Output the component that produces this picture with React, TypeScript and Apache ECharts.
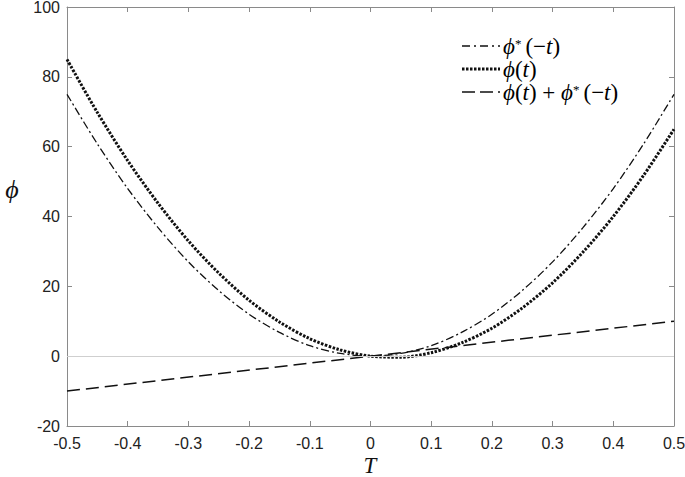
import React, { useEffect, useRef } from "react";
import * as echarts from "echarts";

const tValues = [-0.5, -0.45, -0.4, -0.35, -0.3, -0.25, -0.2, -0.15, -0.1, -0.05, 0, 0.05, 0.1, 0.15, 0.2, 0.25, 0.3, 0.35, 0.4, 0.45, 0.5];
const phiStarMinusT = [75, 60.8, 48, 36.8, 27, 18.8, 12, 6.8, 3, 0.8, 0, 0.8, 3, 6.8, 12, 18.8, 27, 36.8, 48, 60.8, 75];
const phiT = [85, 69.8, 56, 43.8, 33, 23.8, 16, 9.8, 5, 1.8, 0, -0.3, 1, 3.8, 8, 13.8, 21, 29.8, 40, 51.8, 65];
const sumT = [-0.5, 0, 0.5];
const sumValues = [-10, 0, 10];
const xTicks = [-0.5, -0.4, -0.3, -0.2, -0.1, 0, 0.1, 0.2, 0.3, 0.4, 0.5];
const yTicks = [-20, 0, 20, 40, 60, 80, 100];

const SERIF = "'Liberation Serif', 'DejaVu Serif', serif";
const SANS = "'Liberation Sans', Arial, sans-serif";
const FRAME = "#8a8a8a";

export default function App() {
  const ref = useRef<HTMLDivElement>(null);
  useEffect(() => {
    if (!ref.current) return;
    const chart = echarts.init(ref.current, null, { renderer: "svg" });
    const pair = (xs: number[], ys: number[]) => xs.map((x, i) => [x, ys[i]]);
    const axisCommon = {
      axisLine: { show: true, onZero: false, lineStyle: { color: FRAME, width: 1 } },
      axisTick: { show: true, inside: true, length: 5, lineStyle: { color: FRAME } },
      splitLine: { show: false },
    };
    const rich = {
      i: { fontFamily: SERIF, fontStyle: "italic", fontSize: 23, lineHeight: 18, color: "#111" },
      n: { fontFamily: SERIF, fontSize: 23, lineHeight: 18, color: "#111" },
      s: { fontFamily: SERIF, fontSize: 13, lineHeight: 18, color: "#111", verticalAlign: "top", padding: [0, 4, 0, 0] },
    };
    const legendRows = [
      { y: 46, dash: [8, 4, 2, 4], width: 1.3, text: "{i|ϕ}{s|*}{n|(−}{i|t}{n|)}" },
      { y: 69, dash: [2.5, 1.5], width: 3, text: "{i|ϕ}{n|(}{i|t}{n|)}" },
      { y: 92, dash: [13, 5], width: 1.5, text: "{i|ϕ}{n|(}{i|t}{n|) + }{i|ϕ}{s|*}{n|(−}{i|t}{n|)}" },
    ];
    const graphic: any[] = [];
    legendRows.forEach((r) => {
      graphic.push({
        type: "line",
        shape: { x1: 462, y1: r.y, x2: 500, y2: r.y },
        style: { stroke: "#111", lineWidth: r.width, lineDash: r.dash },
      });
      graphic.push({
        type: "text",
        x: 503,
        y: r.y,
        style: { text: r.text, rich, verticalAlign: "middle", align: "left" },
      });
    });
    graphic.push({
      type: "text",
      x: 12,
      y: 189,
      style: {
        text: "ϕ",
        fontFamily: SERIF,
        fontStyle: "italic",
        fontSize: 26,
        fill: "#111",
        align: "center",
        verticalAlign: "middle",
      },
    });
    graphic.push({
      type: "text",
      x: 370,
      y: 465,
      style: {
        text: "T",
        fontFamily: SERIF,
        fontStyle: "italic",
        fontSize: 23,
        lineHeight: 20,
        fill: "#111",
        align: "center",
        verticalAlign: "middle",
      },
    });
    chart.setOption({
      animation: false,
      backgroundColor: "#fff",
      grid: { left: 67, right: 11, top: 7, bottom: 51, containLabel: false, outerBoundsMode: "none" },
      xAxis: [
        {
          type: "value",
          min: -0.5,
          max: 0.5,
          interval: 0.1,
          ...axisCommon,
          axisLabel: {
            fontFamily: SANS,
            fontSize: 16,
            color: "#222",
            margin: 9,
            formatter: (v: number) => {
              const r = Math.round(v * 10) / 10;
              return xTicks.includes(r) ? String(r) : "";
            },
          },
        },
        {
          type: "value",
          position: "top",
          min: -0.5,
          max: 0.5,
          interval: 0.1,
          ...axisCommon,
          axisLabel: { show: false },
        },
      ],
      yAxis: [
        {
          type: "value",
          min: -20,
          max: 100,
          interval: 20,
          ...axisCommon,
          axisLabel: {
            fontFamily: SANS,
            fontSize: 16,
            color: "#222",
            margin: 7,
            formatter: (v: number) => (yTicks.includes(v) ? String(v) : ""),
          },
        },
        {
          type: "value",
          position: "right",
          min: -20,
          max: 100,
          interval: 20,
          ...axisCommon,
          axisLabel: { show: false },
        },
      ],
      graphic,
      series: [
        {
          name: "zero",
          type: "line",
          data: [],
          markLine: {
            silent: true,
            symbol: "none",
            label: { show: false },
            lineStyle: { color: "#cfcfcf", width: 1, type: "solid" },
            data: [{ yAxis: 0 }],
          },
        },
        {
          name: "ϕ*(−t)",
          type: "line",
          data: pair(tValues, phiStarMinusT),
          smooth: 0.3,
          showSymbol: false,
          lineStyle: { color: "#111", width: 1.3, type: [8, 3, 2, 3] },
        },
        {
          name: "ϕ(t)",
          type: "line",
          data: pair(tValues, phiT),
          smooth: 0.3,
          showSymbol: false,
          lineStyle: { color: "#111", width: 3, type: [2.5, 1.5] },
        },
        {
          name: "ϕ(t)+ϕ*(−t)",
          type: "line",
          data: pair(sumT, sumValues),
          showSymbol: false,
          lineStyle: { color: "#111", width: 1.5, type: [13, 6] },
        },
      ],
    });
    return () => chart.dispose();
  }, []);
  return <div ref={ref} style={{ position: "fixed", left: 0, top: 0, width: 685, height: 477 }} />;
}
